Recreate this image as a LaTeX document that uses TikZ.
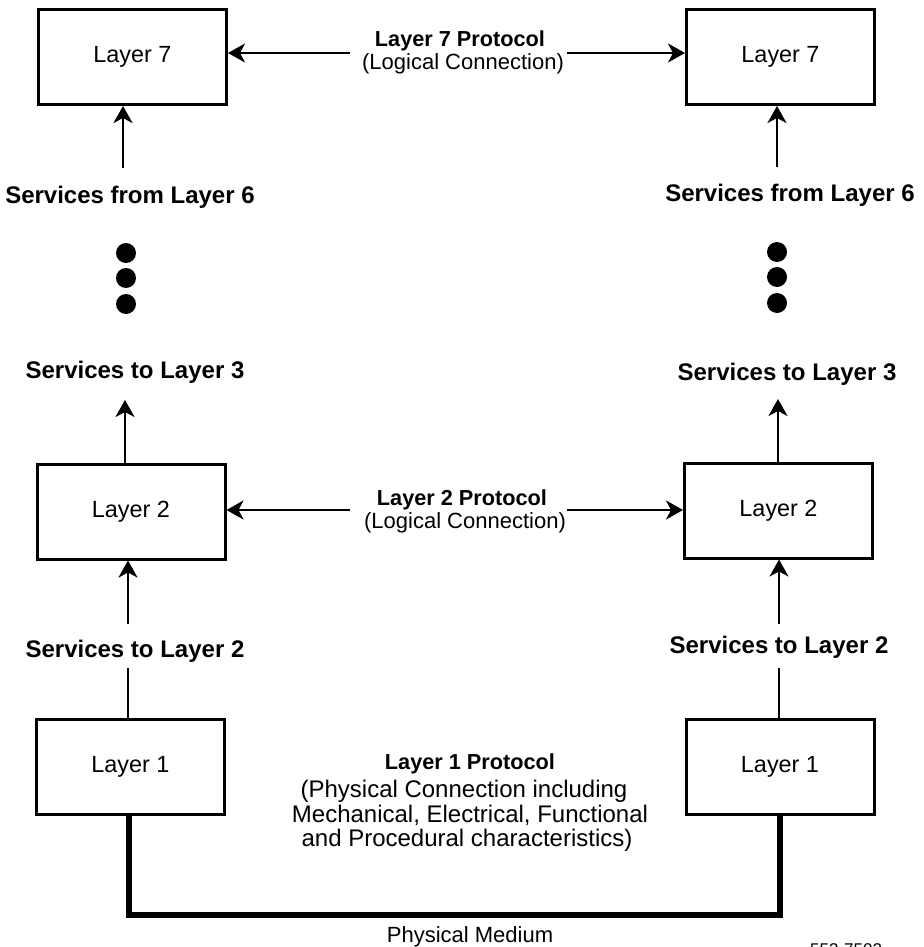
\documentclass[tikz,border=0pt]{standalone}
\usepackage{fontspec}
\setmainfont{Liberation Sans}
\usetikzlibrary{arrows.meta}

\begin{document}
\begin{tikzpicture}[x=1pt,y=-1pt,
  layerbox/.style={draw, line width=3pt, minimum width=188pt, minimum height=95pt,
    inner sep=0pt, font=\fontsize{23.4}{26}\selectfont},
  svc/.style={anchor=base, inner sep=0pt, font=\bfseries\fontsize{24}{26}\selectfont},
  protohead/.style={anchor=base, inner sep=0pt, font=\bfseries\fontsize{21.7}{24}\selectfont},
  protosub/.style={anchor=base, inner sep=0pt, font=\fontsize{22}{24}\selectfont},
  physline/.style={anchor=base, inner sep=0pt, font=\fontsize{24}{26}\selectfont},
  link/.style={line width=2.5pt, -{Stealth[length=17pt,width=19pt,inset=5pt]}},
  plainline/.style={line width=2.5pt},
  medium/.style={line width=6.5pt},
  bigdot/.style={circle, fill, minimum size=20pt, inner sep=0pt}]

\useasboundingbox (0,0) rectangle (923,947);

% layer boxes
\node[layerbox] (l7a) at (132.5,57) {Layer 7};
\node[layerbox] (l7b) at (780.5,57) {Layer 7};
\node[layerbox] (l2a) at (131,511.5) {Layer 2};
\node[layerbox] (l2b) at (778.5,510.5) {Layer 2};
\node[layerbox] (l1a) at (130.5,766.5) {Layer 1};
\node[layerbox] (l1b) at (780,766.5) {Layer 1};

% layer 7 peer protocol
\node[protohead] (p7h) at (460,47) {Layer 7 Protocol};
\node[protosub] (p7s) at (463,70) {(Logical Connection)};
\coordinate (p7l) at (350,53);
\coordinate (p7r) at (567,53);
\draw[link] (p7l) -- (p7l -| l7a.east);
\draw[link] (p7r) -- (p7r -| l7b.west);

% services from layer 6
\coordinate (s6a) at (123,168);
\coordinate (s6b) at (777,167);
\draw[link] (s6a) -- (s6a |- l7a.south);
\draw[link] (s6b) -- (s6b |- l7b.south);
\node[svc] (t6a) at (130,203) {Services from Layer 6};
\node[svc] (t6b) at (790,201) {Services from Layer 6};

% intermediate layers
\node[bigdot] (da1) at (126,253) {};
\node[bigdot] (da2) at (126,278) {};
\node[bigdot] (da3) at (126,304) {};
\node[bigdot] (db1) at (777,252) {};
\node[bigdot] (db2) at (777,277) {};
\node[bigdot] (db3) at (777,303) {};

% services to layer 3
\node[svc] (t3a) at (135,378) {Services to Layer 3};
\node[svc] (t3b) at (787,380) {Services to Layer 3};
\coordinate (u3a) at (125,400);
\coordinate (u3b) at (778,399);
\draw[link] (u3a |- l2a.north) -- (u3a);
\draw[link] (u3b |- l2b.north) -- (u3b);

% layer 2 peer protocol
\node[protohead] (p2h) at (462,505) {Layer 2 Protocol};
\node[protosub] (p2s) at (465,528) {(Logical Connection)};
\coordinate (p2l) at (350,510);
\coordinate (p2r) at (567,510);
\draw[link] (p2l) -- (p2l -| l2a.east);
\draw[link] (p2r) -- (p2r -| l2b.west);

% services to layer 2
\coordinate (s2a) at (128,624);
\coordinate (s2b) at (779,624);
\draw[link] (s2a) -- (s2a |- l2a.south);
\draw[link] (s2b) -- (s2b |- l2b.south);
\node[svc] (t2a) at (135,657) {Services to Layer 2};
\node[svc] (t2b) at (779,653) {Services to Layer 2};
\coordinate (s1a) at (128,668);
\coordinate (s1b) at (779,668);
\draw[plainline] (s1a |- l1a.north) -- (s1a);
\draw[plainline] (s1b |- l1b.north) -- (s1b);

% layer 1 protocol
\node[protohead] (p1h) at (470,769) {Layer 1 Protocol};
\node[physline] (p1a) at (464,797) {(Physical Connection including};
\node[physline] (p1b) at (470,822) {Mechanical, Electrical, Functional};
\node[physline] (p1c) at (467,846) {and Procedural characteristics)};

% physical medium
\coordinate (ma) at (129,915);
\coordinate (mb) at (780,915);
\draw[medium] (ma |- l1a.south) -- (ma) -- (mb) -- (mb |- l1b.south);
\node[physline, font=\fontsize{22}{24}\selectfont] (pm) at (470,942) {Physical Medium};
\node[anchor=base west, inner sep=0pt, font=\fontsize{17}{19}\selectfont] (fig) at (810,955) {553-7502};

\end{tikzpicture}
\end{document}
